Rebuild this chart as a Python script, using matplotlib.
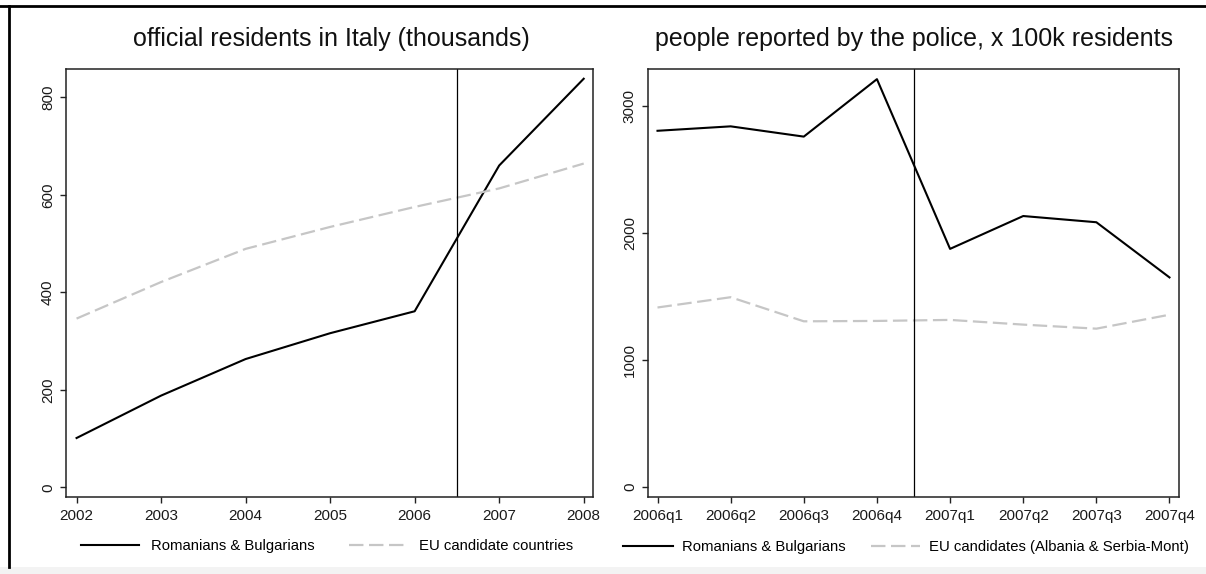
import matplotlib
matplotlib.use("Agg")
import matplotlib.pyplot as plt
from matplotlib.patches import Rectangle
from matplotlib.lines import Line2D

plt.rcParams['font.family'] = ['Liberation Sans', 'DejaVu Sans']

# ---- data: left panel ----
years = [2002, 2003, 2004, 2005, 2006, 2007, 2008]
rom_bul_residents = [101, 188, 263, 316, 361, 660, 838]
eu_cand_residents = [346, 421, 489, 534, 575, 613, 664]
left_yticks = [0, 200, 400, 600, 800]

# ---- data: right panel ----
quarters = ["2006q1", "2006q2", "2006q3", "2006q4", "2007q1", "2007q2", "2007q3", "2007q4"]
rom_bul_reported = [2806, 2841, 2760, 3213, 1875, 2134, 2085, 1650]
eu_cand_reported = [1413, 1494, 1304, 1307, 1315, 1278, 1246, 1356]
right_yticks = [0, 1000, 2000, 3000]

titles = ["official residents in Italy (thousands)",
          "people reported by the police, x 100k residents"]
left_labels = ["Romanians & Bulgarians", "EU candidate countries"]
right_labels = ["Romanians & Bulgarians", "EU candidates (Albania & Serbia-Mont)"]

W, H = 1206, 574
fig = plt.figure(figsize=(W / 100, H / 100), dpi=100)
fig.patch.set_facecolor('white')

# frame: top and left border, light strip at bottom
fig.add_artist(Rectangle((0, 0), 1, 7 / H, transform=fig.transFigure,
                         facecolor='#f3f3f3', edgecolor='none', zorder=0))
fig.add_artist(Line2D([0, 1], [1 - 6 / H, 1 - 6 / H], transform=fig.transFigure,
                      color='black', lw=2.0))
fig.add_artist(Line2D([8.5 / W, 8.5 / W], [1 - 6 / H, 7 / H], transform=fig.transFigure,
                      color='black', lw=2.0))

GRAY = '#c6c6c6'
DASH = (0, (6.5, 2.5))

axL = fig.add_axes([66 / W, 1 - 497 / H, 527 / W, 428.5 / H])
axR = fig.add_axes([648 / W, 1 - 497 / H, 531 / W, 428.5 / H])

def style(ax):
    for s in ax.spines.values():
        s.set_linewidth(1.1)
        s.set_color('#222222')
    ax.tick_params(axis='both', direction='out', length=4.5, width=1.0,
                   labelsize=11, color='#222222', labelcolor='#1a1a1a')
    ax.tick_params(axis='x', pad=4)
    for lab in ax.get_yticklabels():
        lab.set_rotation(90)
        lab.set_va('center')

# left
axL.plot(years, rom_bul_residents, color='black', lw=1.5, label=left_labels[0])
axL.plot(years, eu_cand_residents, color=GRAY, lw=1.6, linestyle=DASH, label=left_labels[1])
axL.axvline(2006.5, color='black', lw=0.9)
axL.set_xlim(2001.875, 2008.11)
axL.set_ylim(-20, 859)
axL.set_xticks(years)
axL.set_xticklabels([str(y) for y in years])
axL.set_yticks(left_yticks)
axL.set_yticklabels([str(v) for v in left_yticks])
style(axL)
fig.text(331 / W, 1 - 39 / H, titles[0], ha='center', va='center', fontsize=18,
         color='#111111')
axL.legend(loc='center', bbox_to_anchor=(327 / W, 1 - 546 / H),
           bbox_transform=fig.transFigure, ncol=2, frameon=False, fontsize=10.75,
           handlelength=3.9, handletextpad=0.8, columnspacing=2.3)

# right
xq = list(range(len(quarters)))
axR.plot(xq, rom_bul_reported, color='black', lw=1.5, label=right_labels[0])
axR.plot(xq, eu_cand_reported, color=GRAY, lw=1.6, linestyle=DASH, label=right_labels[1])
axR.axvline(3.5, color='black', lw=0.9)
axR.set_xlim(-0.13, 7.13)
axR.set_ylim(-81, 3297)
axR.set_xticks(xq)
axR.set_xticklabels(quarters)
axR.set_yticks(right_yticks)
axR.set_yticklabels([str(v) for v in right_yticks])
style(axR)
fig.text(914 / W, 1 - 39 / H, titles[1], ha='center', va='center', fontsize=18,
         color='#111111')
axR.legend(loc='center', bbox_to_anchor=(906 / W, 1 - 547 / H),
           bbox_transform=fig.transFigure, ncol=2, frameon=False, fontsize=10.75,
           handlelength=3.3, handletextpad=0.6, columnspacing=1.7)

fig.savefig('out.png', dpi=100)
